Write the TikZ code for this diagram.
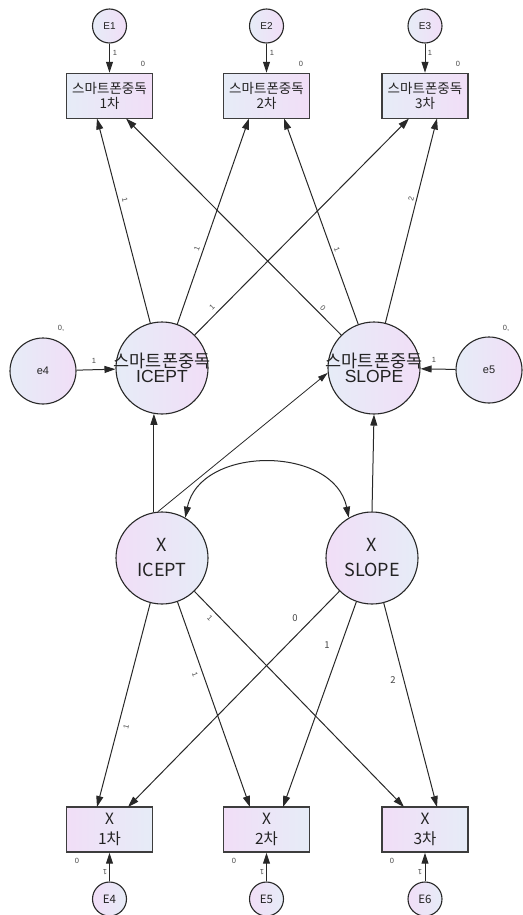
\documentclass[tikz,border=0pt]{standalone}
\usepackage{fontspec}
\setmainfont{Noto Sans CJK KR}
\newfontfamily\arialf{Liberation Sans}
\usetikzlibrary{arrows.meta}
\definecolor{pk}{RGB}{241,222,247}
\definecolor{bl}{RGB}{230,236,247}
\definecolor{ln}{RGB}{40,40,40}
\definecolor{tx}{RGB}{35,35,35}
\definecolor{sm}{RGB}{70,70,70}
\tikzset{
  upf/.style={left color=bl, right color=pk},
  lof/.style={left color=pk, right color=bl},
  errc/.style={circle, draw=ln, line width=1.1pt, minimum size=34pt, inner sep=0pt, text=tx},
  bigc/.style={circle, draw=ln, line width=1.1pt, minimum size=92pt, inner sep=0pt},
  midc/.style={circle, draw=ln, line width=1.1pt, minimum size=66pt, inner sep=0pt, text=tx},
  obsbox/.style={rectangle, draw=ln!90, line width=1.4pt, minimum width=86pt, minimum height=45pt, inner sep=0pt, align=center, text=tx},
  arr/.style={draw=ln, line width=1pt, -{Triangle[length=11pt,width=7pt]}},
  arrthin/.style={draw=ln, line width=0.8pt, -{Triangle[length=10pt,width=6pt]}},
  lbl/.style={font=\arialf\fontsize{7.5}{8}\selectfont, text=sm, inner sep=0pt},
  lblx/.style={font=\fontsize{9.5}{10}\selectfont, text=sm, inner sep=0pt},
  midtxt/.style={align=center, inner sep=0pt, text=tx},
}
\begin{document}
\begin{tikzpicture}[x=1pt,y=-1pt]
\useasboundingbox (0,0) rectangle (522,915);

% ---------- top error circles and boxes ----------
\node[errc, upf, font=\arialf\fontsize{10}{11}\selectfont] (E1) at (109.5,26) {E1};
\node[errc, upf, font=\arialf\fontsize{10}{11}\selectfont] (E2) at (266.5,26) {E2};
\node[errc, upf, font=\arialf\fontsize{10}{11}\selectfont] (E3) at (425,26) {E3};

\node[obsbox, upf, font=\fontsize{13.5}{15.5}\selectfont] (T1) at (109.5,96) {스마트폰중독\\1차};
\node[obsbox, upf, font=\fontsize{13.5}{15.5}\selectfont] (T2) at (266.5,96) {스마트폰중독\\2차};
\node[obsbox, upf, font=\fontsize{13.5}{15.5}\selectfont] (T3) at (425,96) {스마트폰중독\\3차};

\draw[arr] (E1) -- (T1);
\draw[arr] (E2) -- (T2);
\draw[arr] (E3) -- (T3);
\node[lbl] (lE1) at (115,53) {1};
\node[lbl] (lE2) at (272,53) {1};
\node[lbl] (lE3) at (430,53) {1};
\node[lbl] (zT1) at (143,64) {0};
\node[lbl] (zT2) at (301,64) {0};
\node[lbl] (zT3) at (458,64) {0};

% ---------- middle latent circles ----------
\node[bigc, upf, label={[midtxt]center:{\fontsize{17.5}{21}\selectfont 스마트폰중독\\\arialf\fontsize{17.5}{21}\selectfont ICEPT}}] (IC) at (162,368) {};
\node[bigc, upf, label={[midtxt]center:{\fontsize{17.5}{21}\selectfont 스마트폰중독\\\arialf\fontsize{17.5}{21}\selectfont SLOPE}}] (SL) at (374,368) {};
\node[midc, upf, font=\arialf\fontsize{11}{12}\selectfont] (e4) at (43,371) {e4};
\node[midc, upf, font=\arialf\fontsize{11}{12}\selectfont] (e5) at (489,370) {e5};

\draw[arr] (e4) -- (IC);
\draw[arr] (e5) -- (SL);
\node[lbl] (le4) at (94,361) {1};
\node[lbl] (le5) at (434,360) {1};
\node[lbl] (ze4) at (61,328) {0,};
\node[lbl] (ze5) at (506,328) {0,};

% top box anchors
\coordinate (t1a) at (97,118.5);
\coordinate (t1b) at (126,118.5);
\coordinate (t2a) at (249,118.5);
\coordinate (t2b) at (284,118.5);
\coordinate (t3a) at (409,118.5);
\coordinate (t3b) at (437,118.5);

\draw[arr] (IC) -- (t1a);
\draw[arr] (IC) -- (t2a);
\draw[arr] (IC) -- (t3a);
\draw[arr] (SL) -- (t1b);
\draw[arr] (SL) -- (t2b);
\draw[arr] (SL) -- (t3b);

\node[lbl, rotate=-76] (a1) at (125,200) {1};
\node[lbl, rotate=70] (a2) at (197,249) {1};
\node[lbl, rotate=45] (a3) at (212,307) {1};
\node[lbl, rotate=-45] (a4) at (323,308) {0};
\node[lbl, rotate=-70] (a5) at (337,250) {1};
\node[lbl, rotate=76] (a6) at (411,199) {2};

% ---------- lower latent circles ----------
\node[bigc, lof, label={[midtxt, font=\fontsize{18}{25}\selectfont]center:{X\\ICEPT}}] (XI) at (162,558) {};
\node[bigc, lof, label={[midtxt, font=\fontsize{18}{25}\selectfont]center:{X\\SLOPE}}] (XS) at (372,558) {};

\draw[arr] (XI.100) -- (IC.260);
\draw[arr] (XS.north) -- (SL.south);
\draw[arrthin] (XI.95) -- (SL.186);
\draw[draw=ln, line width=1pt, {Triangle[length=11pt,width=7pt]}-{Triangle[length=11pt,width=7pt]}]
  (XI.60) .. controls (200,445) and (334,445) .. (XS.120);

% bottom boxes
\node[obsbox, lof, font=\fontsize{15.5}{20}\selectfont] (B1) at (109.5,829.5) {X\\1차};
\node[obsbox, lof, font=\fontsize{15.5}{20}\selectfont] (B2) at (266.5,829.5) {X\\2차};
\node[obsbox, lof, font=\fontsize{15.5}{20}\selectfont] (B3) at (425,829.5) {X\\3차};

\coordinate (b1a) at (97,807);
\coordinate (b1b) at (128,807);
\coordinate (b2a) at (250,807);
\coordinate (b2b) at (283,807);
\coordinate (b3a) at (404,807);
\coordinate (b3b) at (437,807);

\draw[arr] (XI) -- (b1a);
\draw[arr] (XI) -- (b2a);
\draw[arr] (XI) -- (b3a);
\draw[arr] (XS) -- (b1b);
\draw[arr] (XS) -- (b2b);
\draw[arr] (XS) -- (b3b);

\node[lbl, rotate=76] (c1) at (126,727) {1};
\node[lbl, rotate=-70] (c2) at (195,675) {1};
\node[lbl, rotate=-45] (c3) at (210,618) {1};
\node[lblx] (c4) at (295,618) {0};
\node[lblx] (c5) at (327,645) {1};
\node[lblx] (c6) at (393,680) {2};

% bottom error circles
\node[errc, lof, font=\fontsize{11.5}{12}\selectfont] (E4) at (109.5,899) {E4};
\node[errc, lof, font=\fontsize{11.5}{12}\selectfont] (E5) at (266.5,899) {E5};
\node[errc, lof, font=\fontsize{11.5}{12}\selectfont] (E6) at (425,899) {E6};

\draw[arr] (E4) -- (B1);
\draw[arr] (E5) -- (B2);
\draw[arr] (E6) -- (B3);
\node[lbl, rotate=180] (lE4) at (105,872) {1};
\node[lbl, rotate=180] (lE5) at (262,872) {1};
\node[lbl, rotate=180] (lE6) at (420,872) {1};
\node[lbl] (zB1) at (77,861) {0};
\node[lbl] (zB2) at (234,861) {0};
\node[lbl] (zB3) at (392,861) {0};
\end{tikzpicture}
\end{document}
